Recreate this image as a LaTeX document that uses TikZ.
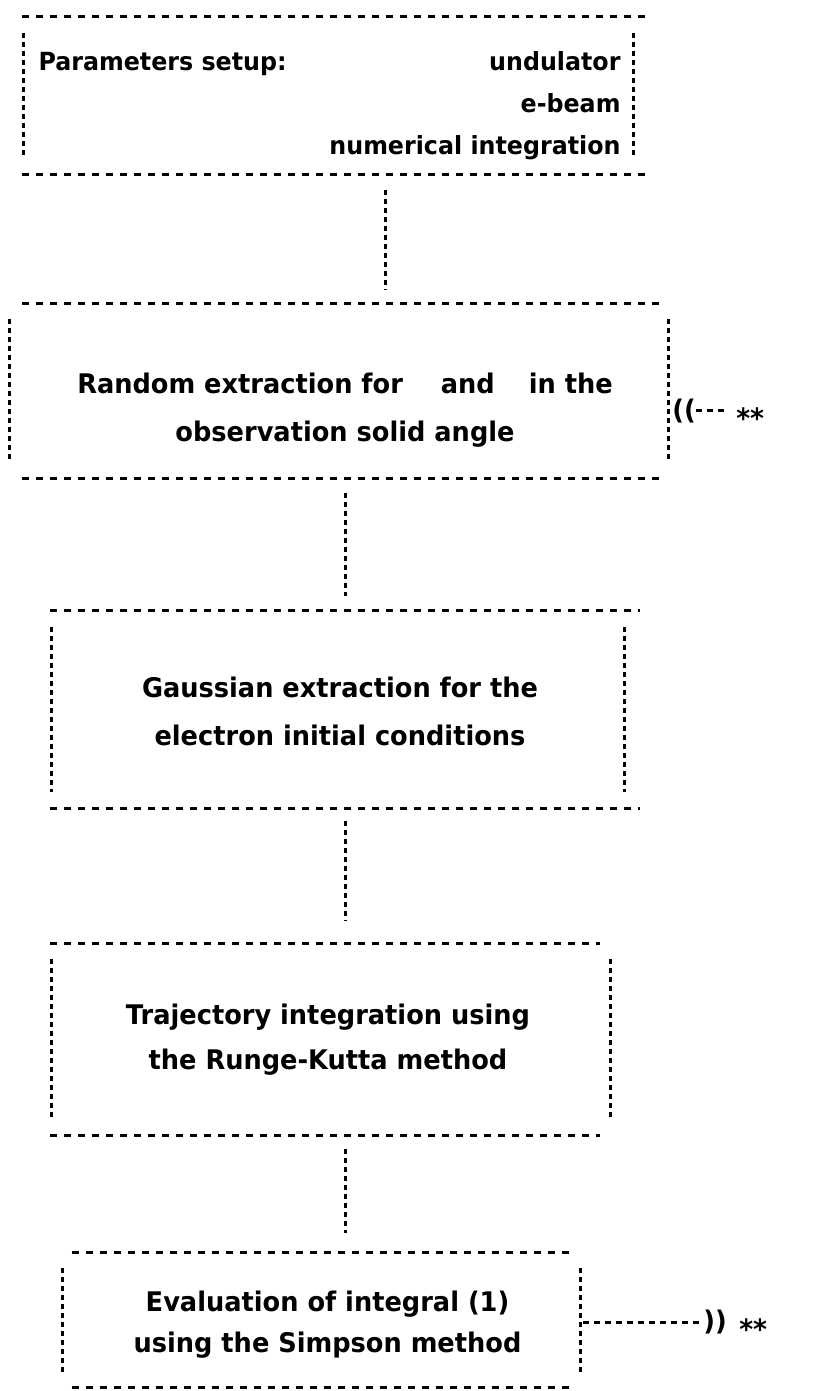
\documentclass[tikz,border=0pt]{standalone}
\usepackage{fontspec}
\setmainfont{DejaVu Sans}[FakeStretch=0.95]
\usetikzlibrary{positioning,calc}

\begin{document}
\begin{tikzpicture}[
                x=1pt, y=-1pt,
                frame/.style 2 args={
                    minimum width=#1,
                    minimum height=#2,
                    inner sep=0pt
                },
                txt/.style={
                    inner sep=0pt,
                    align=center,
                    font=\bfseries\fontsize{27}{48}\selectfont
                },
                hdots/.style={
                    line width=3pt,
                    dash pattern=on 7pt off 7pt
                },
                vdots/.style={
                    line width=3pt,
                    dash pattern=on 5pt off 4pt
                },
                shortdash/.style={
                    line width=3pt,
                    dash pattern=on 6pt off 5pt
                },
                note/.style={
                    inner sep=0pt,
                    font=\bfseries\fontsize{27}{27}\selectfont
                },
                star/.style={
                    inner sep=0pt,
                    font=\bfseries\fontsize{28}{28}\selectfont
                }]

                \useasboundingbox (0,0) rectangle (826,1391);

                \node [frame={609pt}{157pt}] (setup) at (328.5,95.5) {};
                \node [frame={658pt}{175pt}, below=129pt of setup, xshift=10.5pt] (random) {};
                \node [frame={572pt}{197pt}, below=132pt of random, xshift=-1pt] (gauss) {};
                \node [frame={558pt}{192pt}, below=135pt of gauss, xshift=-7pt] (traject) {};
                \node [frame={517pt}{135pt}, below=117pt of traject, xshift=-9.5pt] (simpson) {};

                \node [txt, text width=582pt, align=right, font=\bfseries\fontsize{25}{42}\selectfont]
                    (setup_t) at ([xshift=1pt,yshift=-10pt]setup.center)
                    {Parameters setup:\hskip 0pt plus 1fill undulator\\e-beam\\numerical integration};
                \node [txt] (random_t) at ([xshift=6pt,yshift=-19pt]random.center)
                    {Random extraction for\hspace{38pt}and\hspace{34pt}in the\\observation solid angle};
                \node [txt] (gauss_t) at ([xshift=2pt,yshift=-2pt]gauss.center)
                    {Gaussian extraction for the\\electron initial conditions};
                \node [txt, font=\bfseries\fontsize{27}{45}\selectfont] (traject_t) at ([xshift=-3pt]traject.center)
                    {Trajectory integration using\\the Runge-Kutta method};
                \node [txt, font=\bfseries\fontsize{27}{41}\selectfont] (simpson_t) at ([xshift=6pt,yshift=-5pt]simpson.center)
                    {Evaluation of integral (1)\\using the Simpson method};

                % dotted frames, typed line by line
                \foreach \n/\l/\r in {setup/-2/17, random/12/-8, gauss/-2/16, traject/-2/-10, simpson/9/-5} {
                    \draw [hdots] ([xshift=\l pt]\n.north west) -- ([xshift=\r pt]\n.north east);
                    \draw [hdots] ([xshift=\l pt]\n.south west) -- ([xshift=\r pt]\n.south east);
                    \draw [vdots] ([yshift=-16pt]\n.north west) -- ([yshift=16pt]\n.south west);
                    \draw [vdots] ([yshift=-16pt]\n.north east) -- ([yshift=16pt]\n.south east);
                }

                \draw [vdots] ($(setup.south)+(56.5,16)$) -- ($(random.north)+(46,-13)$);
                \draw [vdots] ($(random.south)+(6,14)$) -- ($(gauss.north)+(7,-15)$);
                \draw [vdots] ($(gauss.south)+(7,13)$) -- ($(traject.north)+(14,-22)$);
                \draw [vdots] ($(traject.south)+(14,14)$) -- ($(simpson.north)+(23.5,-19)$);

                % loop back marks
                \node [note, anchor=west] (back) at ($(random.east)+(4,20)$) {((};
                \node [star, anchor=west] (mark_in) at ($(back.east)+(40,7)$) {**};
                \draw [shortdash] (back.east) -- ([xshift=-10pt,yshift=7pt]mark_in.west);

                \node [note, anchor=west] (forth) at ($(simpson.east)+(123,2)$) {))};
                \node [star, anchor=west] (mark_out) at ($(forth.east)+(12,7)$) {**};
                \draw [shortdash] ($(simpson.east)+(3,2)$) -- (forth.west);

            \end{tikzpicture}
\end{document}
